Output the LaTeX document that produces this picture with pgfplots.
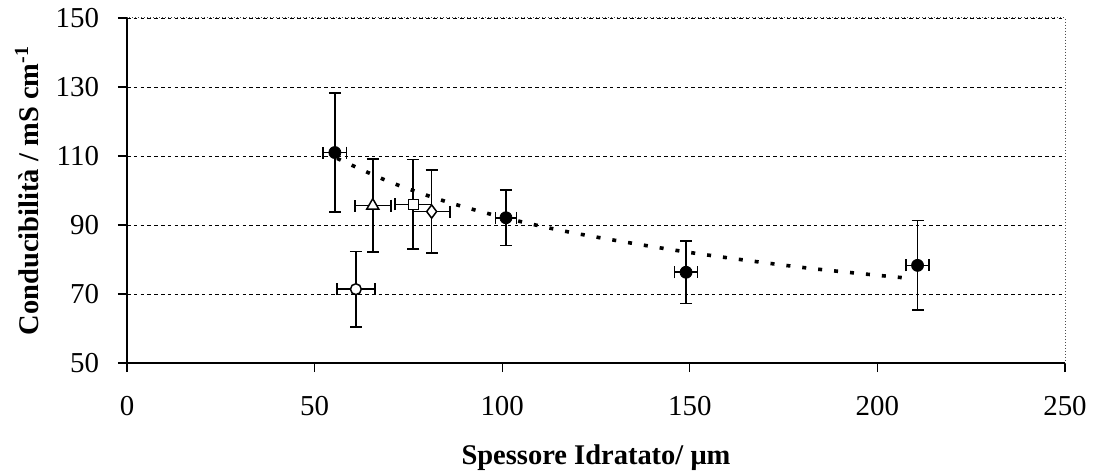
\documentclass[border=0pt]{standalone}
\usepackage{fontspec}
\setmainfont{Liberation Serif}
\usepackage{pgfplots}
\pgfplotsset{compat=1.18}
\pgfplotsset{
  myerr/.style={
    error bars/.cd,
      x dir=both, x explicit, y dir=both, y explicit,
      error bar style={black, line width=0.8bp, solid},
      error mark=-,
      error mark options={rotate=90, black, mark size=3bp, line width=0.8bp, solid},
  }
}
\begin{document}
\begin{tikzpicture}
\begin{axis}[
  name=ax,
  scale only axis,
  width=469bp, height=172.5bp,
  xmin=0, xmax=250, ymin=50, ymax=150,
  xtick={0,50,...,250}, ytick={50,70,...,150},
  tick align=outside, xtick pos=bottom, ytick pos=left,
  major tick length=4.5bp,
  tick style={black, line width=0.6bp},
  axis line style={black!70, line width=0.5bp, densely dotted},
  ymajorgrids,
  grid style={black, line width=0.4bp, dash pattern=on 1.8bp off 1.6bp},
  /pgf/number format/assume math mode=true,
  ticklabel style={font=\fontsize{14.5}{16}\selectfont},
  xticklabel style={yshift=-8.5bp},
  yticklabel style={xshift=-6bp},
  xlabel={\textbf{Spessore Idratato/ μm}},
  ylabel={\textbf{Conducibilità / mS cm\textsuperscript{-1}}},
  every axis label/.append style={font=\fontsize{14.3}{16}\selectfont},
  every axis x label/.append style={yshift=-8bp},
  every axis y label/.append style={yshift=1.5bp},
  clip=false,
]
% axis lines left & bottom solid
\draw[black, line width=0.8bp] (rel axis cs:0,1) -- (rel axis cs:0,0) -- (rel axis cs:1,0);

% trend line (power fit)
\addplot[black, line width=1.8bp, dash pattern=on 2bp off 6bp, smooth] coordinates {
 (56,109.3) (70,102.5) (85,96.8) (101,92.0) (120,87.5) (149,82.2) (180,77.7) (207,74.7)
};

% filled circles
\addplot[black, draw=none, mark=*, mark size=3bp, mark options={black, fill=black}, myerr]
  coordinates {
  (55.4,111.0) +- (3.1,17.2)
  (101.0,92.1) +- (2.8,8.0)
  (149.0,76.3) +- (3.1,9.0)
  (210.7,78.3) +- (3.1,13.0)
};
% triangle
\addplot[black, draw=none, mark=triangle*, mark size=3.5bp, mark options={black, fill=white, line width=0.75bp}, myerr]
  coordinates { (65.5,95.6) +- (4.8,13.5) };
% open circle
\addplot[black, draw=none, mark=*, mark size=2.7bp, mark options={black, fill=white, line width=0.75bp}, myerr]
  coordinates { (61.0,71.4) +- (5.1,10.9) };
% square
\addplot[black, draw=none, mark=square*, mark size=2.5bp, mark options={black, fill=white, line width=0.75bp}, myerr]
  coordinates { (76.3,96.0) +- (4.9,13.0) };
% diamond
\addplot[black, draw=none, mark=diamond*, mark size=3.3bp, mark options={black, fill=white, line width=0.75bp}, myerr]
  coordinates { (81.2,93.9) +- (4.9,12.1) };
\end{axis}
\pgfresetboundingbox
\path ([shift={(-63.5bp,-56bp)}]ax.south west) rectangle ([shift={(14.5bp,9bp)}]ax.north east);
\end{tikzpicture}
\end{document}
